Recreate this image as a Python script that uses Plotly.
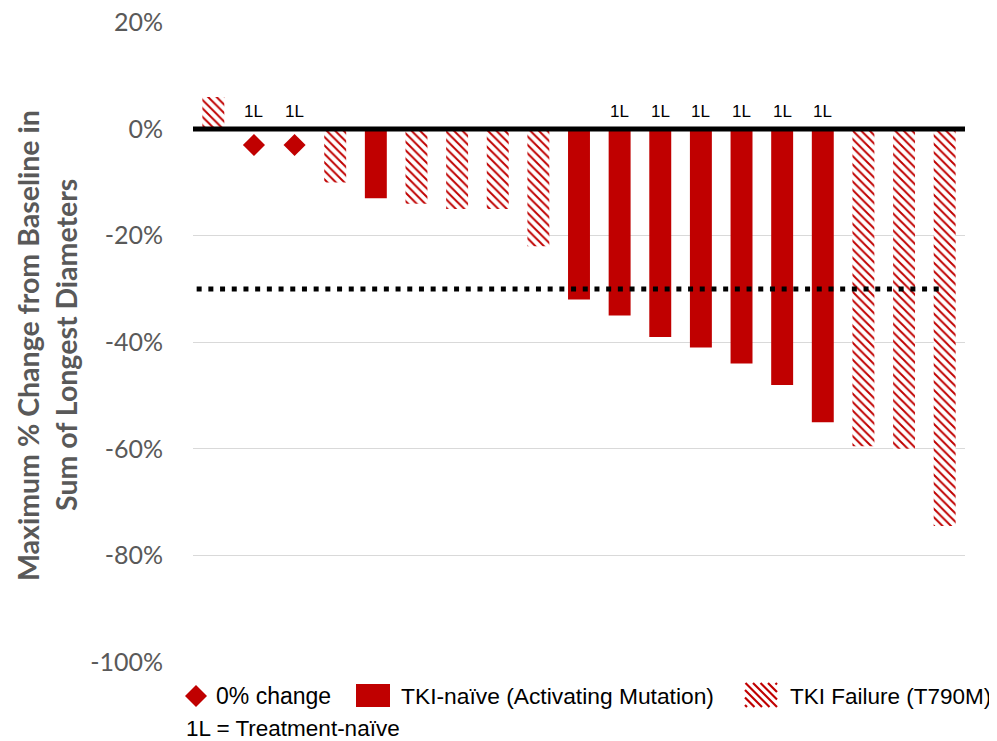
import plotly.graph_objects as go

# Data
positions = list(range(1, 20))
groups = ["T790M", "zero", "zero", "T790M", "naive", "T790M", "T790M", "T790M", "T790M",
          "naive", "naive", "naive", "naive", "naive", "naive", "naive", "T790M", "T790M", "T790M"]
values = [6, -3, -3, -10, -13, -14, -15, -15, -22, -32, -35, -39, -41, -44, -48, -55, -59.5, -60, -74.5]
first_line = [False, True, True, False, False, False, False, False, False,
              False, True, True, True, True, True, True, False, False, False]
y_ticks = [20, 0, -20, -40, -60, -80, -100]
y_tick_labels = ["20%", "0%", "-20%", "-40%", "-60%", "-80%", "-100%"]
threshold = -30
legend_names = ["0% change", "TKI-naïve (Activating Mutation)", "TKI Failure (T790M)"]
footnote = "1L = Treatment-naïve"
y_title = ["Maximum % Change from Baseline in", "Sum of Longest Diameters"]

RED = "#C00000"
GRAY = "#595959"
OFF = 8  # page body margin
W, H = 997 - OFF, 741 - OFF
ARIAL = "Liberation Sans, Arial"
CAL = "Lato, Carlito, Calibri"

def px(x):
    return (x - OFF) / W

def py(y):
    return 1 - (y - OFF) / H

fig = go.Figure()

zx = [p for p, g in zip(positions, groups) if g == "zero"]
zy = [v for v, g in zip(values, groups) if g == "zero"]
nx = [p for p, g in zip(positions, groups) if g == "naive"]
ny = [v for v, g in zip(values, groups) if g == "naive"]
tx = [p for p, g in zip(positions, groups) if g == "T790M"]
ty = [v for v, g in zip(values, groups) if g == "T790M"]

fig.add_trace(go.Bar(x=nx, y=ny, name=legend_names[1], width=0.54, showlegend=False,
                     marker=dict(color=RED, line=dict(width=0))))
fig.add_trace(go.Bar(x=tx, y=ty, name=legend_names[2], width=0.54, showlegend=False,
                     marker=dict(color="white", line=dict(width=0),
                                 pattern=dict(shape="\\", fgcolor=RED, bgcolor="white",
                                              size=6, solidity=0.32, fillmode="replace"))))
fig.add_trace(go.Scatter(x=zx, y=zy, mode="markers", name=legend_names[0], showlegend=False,
                         marker=dict(symbol="diamond", size=17, color=RED, line=dict(width=0))))

# 1L labels
for p, f in zip(positions, first_line):
    if f:
        fig.add_annotation(x=p, y=0, yshift=6, text="1L", showarrow=False, yanchor="bottom",
                           font=dict(family=ARIAL, size=17, color="black"))

# zero line and threshold
fig.add_shape(type="line", xref="paper", x0=px(193), x1=px(965), yref="y", y0=0, y1=0,
              line=dict(color="black", width=5), layer="above")
fig.add_shape(type="line", x0=0.59, x1=19.01, y0=threshold, y1=threshold,
              line=dict(color="black", width=5, dash="5px,6.7px"), layer="above")

# y-axis title (two lines)
fig.add_annotation(xref="paper", yref="paper", x=px(28), y=py(346), text=y_title[0],
                   textangle=-90, showarrow=False, xanchor="center", yanchor="middle",
                   font=dict(family=CAL, size=28.5, color=GRAY, weight="bold"))
fig.add_annotation(xref="paper", yref="paper", x=px(66), y=py(345), text=y_title[1],
                   textangle=-90, showarrow=False, xanchor="center", yanchor="middle",
                   font=dict(family=CAL, size=28.5, color=GRAY, weight="bold"))

# manual legend
cx, cy, r = 196, 696, 11
fig.add_shape(type="path", xref="paper", yref="paper",
              path=f"M {px(cx)} {py(cy - r)} L {px(cx + r)} {py(cy)} L {px(cx)} {py(cy + r)} L {px(cx - r)} {py(cy)} Z",
              fillcolor=RED, line=dict(width=0))
fig.add_annotation(xref="paper", yref="paper", x=px(214), y=py(696), text=legend_names[0],
                   showarrow=False, xanchor="left", yanchor="middle",
                   font=dict(family=ARIAL, size=23, color="black"))
fig.add_shape(type="rect", xref="paper", yref="paper", x0=px(356), x1=px(390), y0=py(707), y1=py(684),
              fillcolor=RED, line=dict(width=0))
fig.add_annotation(xref="paper", yref="paper", x=px(399), y=py(696), text=legend_names[1],
                   showarrow=False, xanchor="left", yanchor="middle",
                   font=dict(family=ARIAL, size=22.8, color="black"))
hx0, hx1, hy0, hy1 = 745, 777, 683, 707
step = 7.5
c = -(hy1 - hy0) + 2
while c < (hx1 - hx0):
    xa = max(0, c)
    xb = min(hx1 - hx0, c + (hy1 - hy0))
    if xb > xa:
        fig.add_shape(type="line", xref="paper", yref="paper",
                      x0=px(hx0 + xa), y0=py(hy0 + xa - c), x1=px(hx0 + xb), y1=py(hy0 + xb - c),
                      line=dict(color=RED, width=2.2))
    c += step
fig.add_annotation(xref="paper", yref="paper", x=px(788), y=py(696), text=legend_names[2],
                   showarrow=False, xanchor="left", yanchor="middle",
                   font=dict(family=ARIAL, size=22.5, color="black"))
fig.add_annotation(xref="paper", yref="paper", x=px(184), y=py(728), text=footnote,
                   showarrow=False, xanchor="left", yanchor="middle",
                   font=dict(family=ARIAL, size=22.5, color="black"))

fig.update_layout(
    width=W, height=H,
    margin=dict(l=0, r=0, t=0, b=0),
    paper_bgcolor="white", plot_bgcolor="white",
    barmode="overlay",
    showlegend=False,
    xaxis=dict(domain=[px(193), px(965)], range=[0.5, 19.5], showticklabels=False,
               showgrid=False, zeroline=False, showline=False, ticks="", automargin=False),
    yaxis=dict(domain=[py(662), py(22.5)], range=[-100, 20], tickvals=y_ticks, ticktext=y_tick_labels,
               showgrid=True, gridcolor="#D9D9D9", gridwidth=1.3, zeroline=False, automargin=False,
               tickfont=dict(family=CAL, size=25, color=GRAY), ticklabeloverflow="allow",
               ticks="outside", ticklen=24, tickcolor="rgba(0,0,0,0)"),
)

fig.write_html("out.html")
